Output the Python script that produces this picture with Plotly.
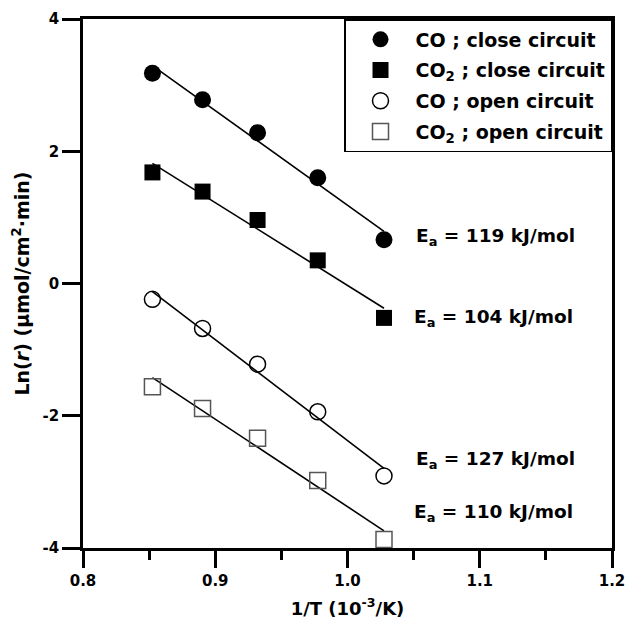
import numpy as np
import plotly.graph_objects as go

# Inverse temperature, 1/T in 10^-3 K^-1 (700-900 °C)
inv_T = [0.8525, 0.8904, 0.9320, 0.9775, 1.0276]

# ln(rate) for each product and circuit condition
co_close = [3.18, 2.78, 2.28, 1.60, 0.66]
co2_close = [1.68, 1.39, 0.96, 0.35, -0.52]
co_open = [-0.24, -0.68, -1.22, -1.94, -2.91]
co2_open = [-1.56, -1.89, -2.34, -2.98, -3.87]

# Apparent activation energies, kJ/mol
ea_values = [119, 104, 127, 110]

series_names = [
    "CO ; close circuit",
    "CO<sub>2</sub> ; close circuit",
    "CO ; open circuit",
    "CO<sub>2</sub> ; open circuit",
]

x_tickvals = [0.8, 0.9, 1.0, 1.1, 1.2]
x_ticktext = ["0.8", "0.9", "1.0", "1.1", "1.2"]
y_tickvals = [-4, -2, 0, 2, 4]
y_ticktext = ["-4", "-2", "0", "2", "4"]

R_GAS = 8.314  # J/(mol K)

FONT = "DejaVu Sans"

series_values = [co_close, co2_close, co_open, co2_open]
marker_styles = [
    dict(symbol="circle", size=17, color="black", line=dict(width=0)),
    dict(symbol="square", size=16, color="black", line=dict(width=0)),
    dict(symbol="circle-open", size=16, color="black", line=dict(width=1.5, color="black")),
    dict(symbol="square-open", size=16, color="#555555", line=dict(width=1.5, color="#555555")),
]

fig = go.Figure()

x = np.array(inv_T)
for ea, yv in zip(ea_values, series_values):
    y = np.array(yv)
    # Arrhenius line: slope fixed by Ea, intercept by least squares
    slope = -ea * 1000.0 / R_GAS / 1000.0
    intercept = y.mean() - slope * x.mean()
    xl = np.array([x.min(), x.max()])
    fig.add_trace(go.Scatter(
        x=xl, y=slope * xl + intercept, mode="lines",
        line=dict(color="black", width=1.6), showlegend=False, hoverinfo="skip",
    ))

for i, (name, yv, ms) in enumerate(zip(series_names, series_values, marker_styles)):
    fig.add_trace(go.Scatter(
        x=inv_T, y=yv, mode="markers", name="<b>" + name + "</b>",
        marker=ms, legendgroup="g%d" % i,
    ))

# Activation energy labels
label_pos = [(1.050, 0.70), (1.0485, -0.52), (1.050, -2.67), (1.0485, -3.47)]
for ea, (lx, ly) in zip(ea_values, label_pos):
    fig.add_annotation(
        x=lx, y=ly, xref="x", yref="y", xanchor="left", yanchor="middle",
        text="<b>E<sub>a</sub> = %d kJ/mol</b>" % ea, showarrow=False,
        font=dict(family=FONT, size=18.5, color="black"),
    )

axis_common = dict(
    showgrid=False, zeroline=False, showline=True, linecolor="black", linewidth=2.5,
    mirror=True, ticks="outside", tickcolor="black", tickwidth=2.5, automargin=False,
    tickfont=dict(family=FONT, size=15, color="black", weight="bold"),
)

fig.update_xaxes(
    range=[0.8, 1.2], tickmode="array", tickvals=x_tickvals, ticktext=x_ticktext,
    ticklen=17,
    minor=dict(tickmode="array", tickvals=[0.85, 0.95, 1.05, 1.15], ticks="outside",
               ticklen=9, tickwidth=2.5, tickcolor="black"),
    title=dict(text="<b>1/T (10<sup>-3</sup>/K)</b>", standoff=14,
               font=dict(family=FONT, size=18, color="black")),
    **axis_common,
)
fig.update_yaxes(
    range=[-4, 4], tickmode="array", tickvals=y_tickvals, ticktext=y_ticktext,
    ticklen=18,
    title=dict(text="<b>Ln(<i>r</i>) (\u03bcmol/cm<sup>2</sup>\u00b7min)</b>", standoff=8,
               font=dict(family=FONT, size=19, color="black")),
    **axis_common,
)

fig.update_layout(
    width=629, height=628,
    margin=dict(l=83, r=17, t=19, b=80, autoexpand=False),
    plot_bgcolor="white", paper_bgcolor="white",
    font=dict(family=FONT, color="black"),
    legend=dict(
        x=1, y=1, xanchor="right", yanchor="top",
        bgcolor="white", bordercolor="black", borderwidth=1.5,
        font=dict(family=FONT, size=19, color="black"),
        itemwidth=60, tracegroupgap=3,
    ),
)

fig.write_html("out.html")
